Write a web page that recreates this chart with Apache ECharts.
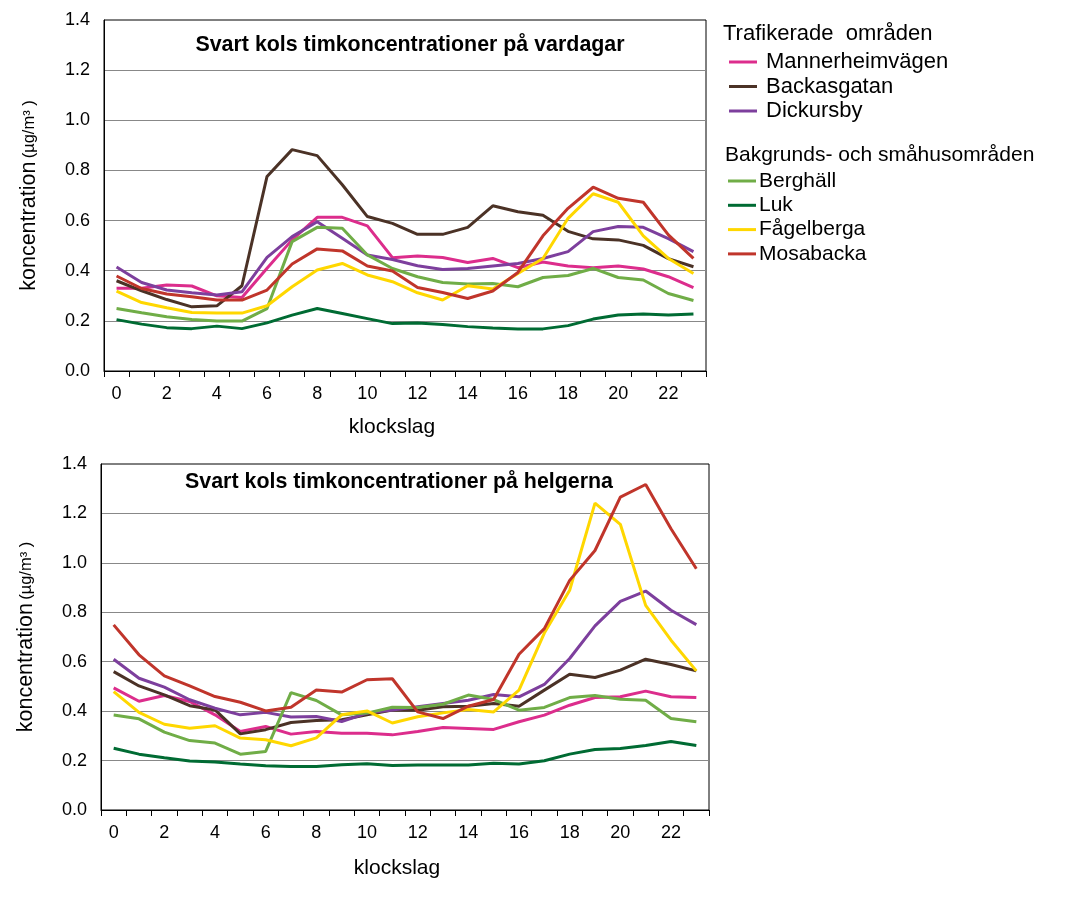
<!DOCTYPE html>
<html>
<head>
<meta charset="utf-8">
<script src="https://cdn.jsdelivr.net/npm/echarts@6/dist/echarts.min.js"></script>
<style>
html, body { margin: 0; padding: 0; background: #fff; }
#chart { width: 1068px; height: 901px; }
</style>
</head>
<body>
<div id="chart"></div>
<script>
var hours = ['0','1','2','3','4','5','6','7','8','9','10','11','12','13','14','15','16','17','18','19','20','21','22','23'];
var yTicks = [0, 0.2, 0.4, 0.6, 0.8, 1.0, 1.2, 1.4];

var stationNames = ['Mannerheimvägen', 'Backasgatan', 'Dickursby', 'Berghäll', 'Luk', 'Fågelberga', 'Mosabacka'];
var stationColors = ['#dc2d8c', '#4b3226', '#7d3f9d', '#70ad47', '#006b33', '#ffd700', '#c0352b'];

// vardagar
var wdMannerheim = [0.33,0.33,0.343,0.339,0.30,0.293,0.41,0.523,0.613,0.613,0.579,0.452,0.459,0.453,0.433,0.449,0.412,0.435,0.419,0.412,0.419,0.407,0.376,0.333];
var wdBackas = [0.36,0.32,0.285,0.256,0.26,0.34,0.776,0.883,0.859,0.743,0.616,0.589,0.545,0.545,0.573,0.659,0.635,0.621,0.557,0.527,0.523,0.501,0.448,0.416];
var wdDickursby = [0.415,0.353,0.323,0.312,0.303,0.316,0.453,0.536,0.595,0.529,0.463,0.445,0.42,0.405,0.409,0.419,0.429,0.449,0.476,0.556,0.576,0.573,0.528,0.476];
var wdBerghall = [0.249,0.232,0.216,0.205,0.199,0.199,0.249,0.516,0.573,0.569,0.463,0.409,0.376,0.353,0.347,0.349,0.336,0.373,0.381,0.409,0.373,0.363,0.309,0.281];
var wdLuk = [0.205,0.187,0.173,0.169,0.179,0.169,0.192,0.223,0.249,0.229,0.209,0.189,0.191,0.185,0.177,0.172,0.168,0.168,0.181,0.207,0.223,0.227,0.223,0.227];
var wdFagelberga = [0.319,0.273,0.252,0.233,0.231,0.231,0.26,0.336,0.403,0.429,0.383,0.356,0.312,0.283,0.34,0.327,0.389,0.449,0.609,0.707,0.673,0.539,0.449,0.389];
var wdMosabacka = [0.379,0.329,0.307,0.296,0.283,0.283,0.323,0.427,0.487,0.479,0.419,0.399,0.333,0.313,0.289,0.319,0.393,0.539,0.649,0.733,0.689,0.673,0.543,0.449];

// helgerna
var heMannerheim = [0.494,0.44,0.463,0.439,0.385,0.318,0.338,0.307,0.318,0.311,0.311,0.304,0.318,0.334,0.33,0.326,0.357,0.384,0.424,0.455,0.458,0.481,0.458,0.455];
var heBackas = [0.56,0.502,0.466,0.422,0.405,0.308,0.325,0.354,0.362,0.365,0.385,0.405,0.404,0.418,0.42,0.431,0.42,0.485,0.549,0.536,0.566,0.61,0.589,0.563];
var heDickursby = [0.61,0.533,0.497,0.446,0.412,0.385,0.395,0.376,0.378,0.358,0.392,0.405,0.418,0.431,0.444,0.467,0.458,0.508,0.613,0.745,0.844,0.886,0.808,0.75];
var heBerghall = [0.384,0.369,0.315,0.281,0.271,0.226,0.237,0.475,0.443,0.385,0.392,0.416,0.415,0.428,0.465,0.447,0.404,0.415,0.455,0.463,0.448,0.444,0.37,0.357];
var heLuk = [0.25,0.226,0.211,0.198,0.194,0.186,0.179,0.176,0.176,0.183,0.187,0.18,0.182,0.182,0.182,0.189,0.186,0.199,0.226,0.245,0.249,0.261,0.277,0.261];
var heFagelberga = [0.479,0.395,0.347,0.331,0.341,0.291,0.284,0.26,0.292,0.385,0.401,0.352,0.377,0.393,0.407,0.397,0.485,0.716,0.889,1.242,1.156,0.828,0.687,0.563];
var heMosabacka = [0.749,0.628,0.543,0.502,0.459,0.436,0.401,0.416,0.486,0.477,0.527,0.531,0.397,0.37,0.42,0.447,0.63,0.734,0.929,1.05,1.266,1.317,1.138,0.976];

var weekdayData = [wdMannerheim, wdBackas, wdDickursby, wdBerghall, wdLuk, wdFagelberga, wdMosabacka];
var weekendData = [heMannerheim, heBackas, heDickursby, heBerghall, heLuk, heFagelberga, heMosabacka];

var font = 'Liberation Sans, Arial, sans-serif';

function makeX(idx, gap, shift) {
	return {
		type: 'category',
		gridIndex: idx,
		data: hours,
		boundaryGap: true,
		name: 'klockslag',
		nameLocation: 'middle',
		nameGap: gap,
		nameTextStyle: { fontFamily: font, fontSize: 21, color: '#000', padding: [0, shift, 0, 0] },
		axisLine: { lineStyle: { color: '#000', width: 1 } },
		axisTick: { show: true, interval: 0, length: 6, lineStyle: { color: '#000' } },
		axisLabel: { interval: 1, fontFamily: font, fontSize: 18, color: '#000', margin: 14 },
		splitLine: { show: false }
	};
}

function makeY(idx) {
	return {
		type: 'value',
		gridIndex: idx,
		min: yTicks[0],
		max: yTicks[yTicks.length - 1],
		interval: 0.2,
		name: '{a|koncentration} {b|(µg/m³ )}',
		nameLocation: 'middle',
		nameGap: 64,
		nameTextStyle: {
			fontFamily: font,
			color: '#000',
			rich: {
				a: { fontFamily: font, fontSize: 21.5, color: '#000' },
				b: { fontFamily: font, fontSize: 16.5, color: '#000' }
			}
		},
		axisLine: { show: true, lineStyle: { color: '#000', width: 1 } },
		axisTick: { show: false },
		axisLabel: {
			fontFamily: font, fontSize: 18, color: '#000', margin: 14,
			formatter: function(v) { return v.toFixed(1); }
		},
		splitLine: { show: true, showMinLine: false, showMaxLine: false, lineStyle: { color: '#888', width: 1 } }
	};
}

var series = [];
for (var i = 0; i < stationNames.length; i++) {
	series.push({
		name: stationNames[i], type: 'line', xAxisIndex: 0, yAxisIndex: 0,
		data: weekdayData[i], symbol: 'none', color: stationColors[i],
		lineStyle: { width: 3, color: stationColors[i] }, z: 3
	});
}
for (var i = 0; i < stationNames.length; i++) {
	series.push({
		name: stationNames[i], type: 'line', xAxisIndex: 1, yAxisIndex: 1,
		data: weekendData[i], symbol: 'none', color: stationColors[i],
		lineStyle: { width: 3, color: stationColors[i] }, z: 3
	});
}

var chart = echarts.init(document.getElementById('chart'));
var option = {
	backgroundColor: '#fff',
	animation: false,
	title: [
		{ text: 'Svart kols timkoncentrationer på vardagar', left: 410, top: 35, textAlign: 'center', padding: 0,
		  textStyle: { fontFamily: font, fontSize: 21.4, fontWeight: 'bold', color: '#000' } },
		{ text: 'Svart kols timkoncentrationer på helgerna', left: 399, top: 472, textAlign: 'center', padding: 0,
		  textStyle: { fontFamily: font, fontSize: 21.4, fontWeight: 'bold', color: '#000' } },
		{ text: 'Trafikerade  områden', left: 718, top: 18,
		  textStyle: { fontFamily: font, fontSize: 22, fontWeight: 'normal', color: '#000' } },
		{ text: 'Bakgrunds- och småhusområden', left: 720, top: 140,
		  textStyle: { fontFamily: font, fontSize: 21, fontWeight: 'normal', color: '#000' } }
	],
	legend: [
		{
			data: stationNames.slice(0, 3), orient: 'vertical', left: 724, top: 46,
			icon: 'rect', itemWidth: 28, itemHeight: 3, itemGap: 2.5,
			textStyle: { fontFamily: font, fontSize: 22, color: '#000', lineHeight: 22, padding: [0, 0, 0, 4] }
		},
		{
			data: stationNames.slice(3), orient: 'vertical', left: 723, top: 165.5,
			icon: 'rect', itemWidth: 28, itemHeight: 3, itemGap: 3.3,
			textStyle: { fontFamily: font, fontSize: 21, color: '#000', lineHeight: 21, padding: [0, 0, 0, -2] }
		}
	],
	grid: [
		{ left: 104, top: 20, width: 602, height: 351, show: true, borderColor: '#000', borderWidth: 1, containLabel: false },
		{ left: 101, top: 464, width: 608, height: 346, show: true, borderColor: '#000', borderWidth: 1, containLabel: false }
	],
	xAxis: [makeX(0, 46, 26), makeX(1, 48, 16)],
	yAxis: [makeY(0), makeY(1)],
	series: series
};
chart.setOption(option);
</script>
</body>
</html>
